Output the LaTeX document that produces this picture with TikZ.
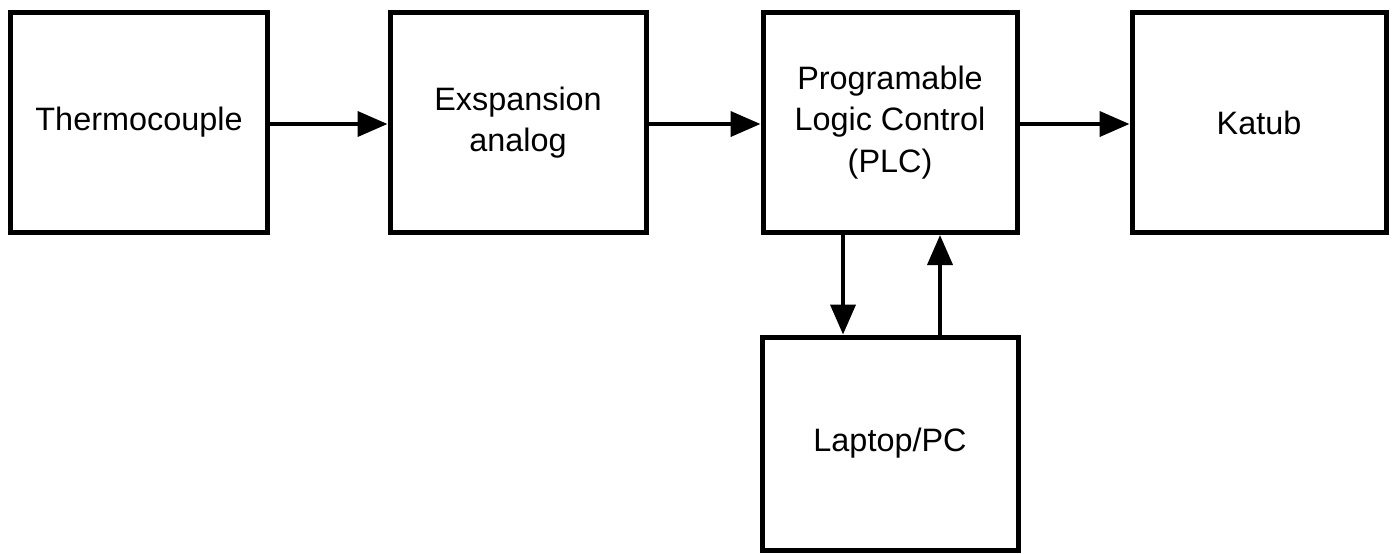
\documentclass[tikz,border=0pt]{standalone}
\usepackage{fontspec}
\setmainfont{Liberation Sans}
\usetikzlibrary{arrows.meta}
\begin{document}
\begin{tikzpicture}[x=0.5pt,y=-0.5pt,
  blk/.style={draw=black,line width=2.5pt,fill=white,align=center,
    font=\fontsize{16.2pt}{20.8pt}\selectfont,inner sep=0pt},
  conn/.style={line width=2pt,-{Triangle[length=15pt,width=12.5pt]}}]
\useasboundingbox (0,0) rectangle (1395,553);
\node[blk,minimum width=128.5pt,minimum height=110pt] (th) at (139,122.5) {Thermocouple};
\node[blk,minimum width=128pt,minimum height=110pt] (ex) at (518,122.5) {Exspansion\\analog};
\node[blk,minimum width=127pt,minimum height=110pt] (plc) at (890,122.5) {Programable\\Logic Control\\(PLC)};
\node[blk,minimum width=127pt,minimum height=110pt] (ka) at (1259,122.5) {Katub};
\node[blk,minimum width=128pt,minimum height=106.5pt] (lp) at (890,443.5) {Laptop/PC};
\draw[conn] (th.east |- 0,124) -- (ex.west |- 0,124);
\draw[conn] (ex.east |- 0,124) -- (plc.west |- 0,124);
\draw[conn] (plc.east |- 0,124) -- (ka.west |- 0,124);
\draw[conn] (plc.south -| 843,0) -- (lp.north -| 843,0);
\draw[conn] (lp.north -| 940,0) -- (plc.south -| 940,0);
\end{tikzpicture}
\end{document}
